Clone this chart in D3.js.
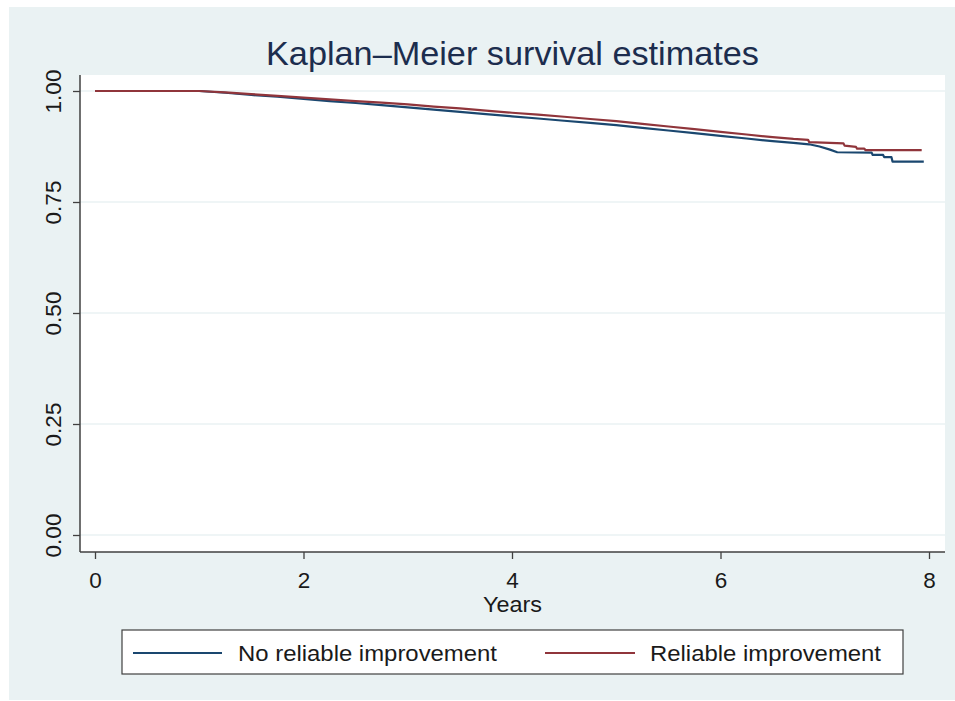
<!DOCTYPE html>
<html>
<head>
<meta charset="utf-8">
<script src="https://cdn.jsdelivr.net/npm/d3@7"></script>
<style>
  html, body { margin: 0; padding: 0; background: #ffffff; }
  svg { display: block; }
  text { font-family: "Liberation Sans", Arial, sans-serif; }
</style>
</head>
<body>
<svg id="chart" width="955" height="701"></svg>
<script>
// ---- data ----
const title = "Kaplan–Meier survival estimates";
const xLabel = "Years";
const seriesNames = ["No reliable improvement", "Reliable improvement"];
const xTicks = [0, 2, 4, 6, 8];
const yTicks = [0, 0.25, 0.5, 0.75, 1];
const yTickLabels = ["0.00", "0.25", "0.50", "0.75", "1.00"];

// No reliable improvement: [years, survival]
const noImprovement = [
  [0, 1.000], [1.0, 1.000], [1.25, 0.996], [1.5, 0.991], [1.75, 0.987],
  [2.0, 0.982], [2.25, 0.977], [2.5, 0.973], [2.75, 0.968], [3.0, 0.963],
  [3.25, 0.958], [3.5, 0.953], [3.75, 0.948], [4.0, 0.943], [4.25, 0.938],
  [4.5, 0.933], [4.75, 0.928], [5.0, 0.923], [5.25, 0.917], [5.5, 0.911],
  [5.75, 0.905], [6.0, 0.899], [6.25, 0.893], [6.5, 0.887], [6.7, 0.883],
  [6.85, 0.880], [6.95, 0.875], [7.05, 0.868], [7.12, 0.862], [7.45, 0.861],
  [7.46, 0.856], [7.56, 0.856], [7.57, 0.851], [7.64, 0.851], [7.65, 0.841],
  [7.95, 0.841]
];
// Reliable improvement: [years, survival]
const improvement = [
  [0, 1.000], [1.0, 1.000], [1.25, 0.997], [1.5, 0.993], [1.75, 0.989],
  [2.0, 0.985], [2.25, 0.981], [2.5, 0.977], [2.75, 0.974], [3.0, 0.970],
  [3.25, 0.965], [3.5, 0.961], [3.75, 0.956], [4.0, 0.951], [4.25, 0.947],
  [4.5, 0.942], [4.75, 0.937], [5.0, 0.932], [5.25, 0.926], [5.5, 0.920],
  [5.75, 0.914], [6.0, 0.908], [6.25, 0.902], [6.5, 0.896], [6.7, 0.892],
  [6.84, 0.890], [6.85, 0.885], [7.18, 0.882], [7.19, 0.877], [7.3, 0.874],
  [7.31, 0.870], [7.38, 0.870], [7.39, 0.867], [7.93, 0.867]
];
const seriesColors = ["#1a476f", "#90353b"];

// ---- layout ----
const svg = d3.select("#chart");
const W = 955, H = 701;
const plot = { left: 80, right: 945, top: 75, bottom: 552 };
const FONT = "Liberation Sans, Arial, sans-serif";

svg.append("rect").attr("x", 9).attr("y", 7).attr("width", W - 9).attr("height", H - 8)
  .attr("fill", "#eaf2f3");
svg.append("rect").attr("x", plot.left).attr("y", plot.top)
  .attr("width", plot.right - plot.left).attr("height", plot.bottom - plot.top)
  .attr("fill", "#ffffff");

const x = d3.scaleLinear().domain([0, 8]).range([95, 929]);
const y = d3.scaleLinear().domain([0, 1]).range([535, 91]);

// gridlines
svg.append("g").selectAll("line").data(yTicks).join("line")
  .attr("x1", plot.left).attr("x2", plot.right)
  .attr("y1", d => y(d)).attr("y2", d => y(d))
  .attr("stroke", "#eaf2f3").attr("stroke-width", 1.5);

// x axis
const xAxis = svg.append("g").attr("transform", `translate(0,${plot.bottom})`)
  .call(d3.axisBottom(x).tickValues(xTicks).tickSize(7).tickPadding(10).tickFormat(d3.format("d")));
xAxis.select(".domain").attr("d", `M${plot.left},0H${plot.right}`).attr("stroke", "#404040").attr("stroke-width", 1.5);
xAxis.selectAll(".tick line").attr("stroke", "#404040").attr("stroke-width", 1.3);
xAxis.selectAll(".tick text").attr("font-size", 22.5).attr("fill", "#1a1a1a")
  .attr("font-family", FONT).attr("y", 36).attr("dy", null);

// y axis
const yAxis = svg.append("g").attr("transform", `translate(${plot.left},0)`)
  .call(d3.axisLeft(y).tickValues(yTicks).tickSize(7).tickFormat((d, i) => yTickLabels[i]));
yAxis.select(".domain").attr("d", `M0,${plot.top}V${plot.bottom}`).attr("stroke", "#404040").attr("stroke-width", 1.5);
yAxis.selectAll(".tick line").attr("stroke", "#404040").attr("stroke-width", 1.3);
yAxis.selectAll(".tick text")
  .attr("font-size", 22.5).attr("fill", "#1a1a1a")
  .attr("font-family", FONT)
  .attr("x", null).attr("dy", null)
  .attr("text-anchor", "middle")
  .attr("transform", "translate(-19,0) rotate(-90)");

// curves
const line = d3.line().x(d => x(d[0])).y(d => y(d[1])).curve(d3.curveLinear);
[noImprovement, improvement].forEach((s, i) => {
  svg.append("path").datum(s).attr("d", line)
    .attr("fill", "none").attr("stroke", seriesColors[i]).attr("stroke-width", 2.2)
    .attr("stroke-linejoin", "round");
});

// title
svg.append("text").attr("x", (plot.left + plot.right) / 2).attr("y", 65)
  .attr("text-anchor", "middle").attr("font-size", 33).attr("fill", "#1c2d4e")
  .attr("textLength", 493).attr("lengthAdjust", "spacingAndGlyphs")
  .text(title);

// x label
svg.append("text").attr("x", (plot.left + plot.right) / 2).attr("y", 612)
  .attr("text-anchor", "middle").attr("font-size", 21.5).attr("fill", "#1a1a1a")
  .attr("textLength", 59).attr("lengthAdjust", "spacingAndGlyphs")
  .text(xLabel);

// legend
const lg = svg.append("g");
lg.append("rect").attr("x", 122).attr("y", 630).attr("width", 781).attr("height", 44)
  .attr("fill", "#ffffff").attr("stroke", "#404040").attr("stroke-width", 1.2);
const legendItems = [
  { x1: 133, x2: 222, tx: 238, len: 259 },
  { x1: 545, x2: 635, tx: 650, len: 231 }
];
legendItems.forEach((it, i) => {
  lg.append("line").attr("x1", it.x1).attr("x2", it.x2).attr("y1", 653).attr("y2", 653)
    .attr("stroke", seriesColors[i]).attr("stroke-width", 2);
  lg.append("text").attr("x", it.tx).attr("y", 661).attr("font-size", 22).attr("fill", "#1a1a1a")
    .attr("textLength", it.len).attr("lengthAdjust", "spacingAndGlyphs")
    .text(seriesNames[i]);
});
</script>
</body>
</html>
